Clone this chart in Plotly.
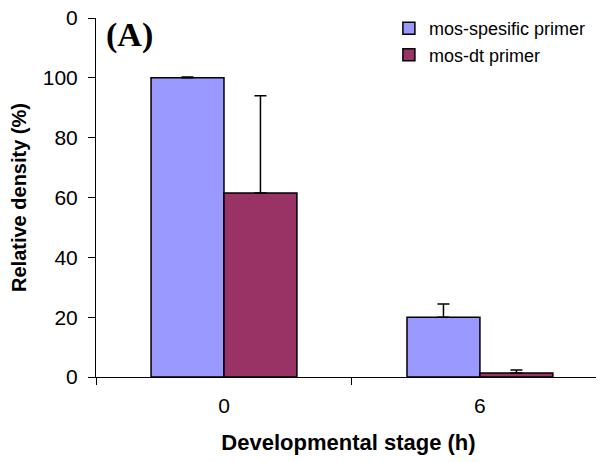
import plotly.graph_objects as go

categories = ["0", "6"]
specific_vals = [100, 20]
specific_err = [0.3, 4.4]
dt_vals = [61.5, 1.3]
dt_err = [32.5, 1.0]
y_tickvals = [0, 20, 40, 60, 80, 100, 120]
y_ticktext = ["0", "20", "40", "60", "80", "100", "0"]

fig = go.Figure()
fig.add_trace(go.Bar(
    x=categories, y=specific_vals, name="mos-spesific primer",
    marker=dict(color="#9999FF", line=dict(color="black", width=1.5)),
    error_y=dict(type="data", array=specific_err, arrayminus=[0, 0], symmetric=False,
                 color="black", thickness=1.5, width=6),
))
fig.add_trace(go.Bar(
    x=categories, y=dt_vals, name="mos-dt primer",
    marker=dict(color="#993366", line=dict(color="black", width=1.5)),
    error_y=dict(type="data", array=dt_err, arrayminus=[0, 0], symmetric=False,
                 color="black", thickness=1.5, width=6),
))

fig.update_layout(
    width=596, height=454,
    margin=dict(l=88, r=3, t=10, b=85, autoexpand=False),
    plot_bgcolor="white", paper_bgcolor="white",
    barmode="group", bargap=0.43, bargroupgap=0,
    font=dict(family="Liberation Sans, Arial, sans-serif", color="black", size=21),
    showlegend=True,
    legend=dict(x=0.58, y=1.022, xanchor="left", yanchor="top",
                font=dict(size=18), bgcolor="rgba(0,0,0,0)", tracegroupgap=2),
    xaxis=dict(
        type="category", tickson="boundaries", ticks="outside", ticklen=7,
        range=[-0.5, 1.473],
        tickcolor="black", showline=True, linecolor="black", linewidth=1,
        showgrid=False, tickfont=dict(size=21), automargin=False,
        ticklabelstandoff=10,
        title=dict(text="<b>Developmental stage (h)</b>", font=dict(size=22), standoff=18),
    ),
    yaxis=dict(
        range=[0, 120], tickvals=y_tickvals, ticktext=y_ticktext,
        ticks="outside", ticklen=7, tickcolor="black", showline=True,
        linecolor="black", linewidth=1, showgrid=False, zeroline=False,
        tickfont=dict(size=21), automargin=False, ticklabeloverflow="allow",
        ticklabelstandoff=6,
        title=dict(text="<b>Relative density (%)</b>", font=dict(size=20), standoff=10),
    ),
    annotations=[dict(
        text="<b>(A)</b>", xref="paper", yref="paper", x=8 / 505, y=1.012,
        xanchor="left", yanchor="top", showarrow=False,
        font=dict(family="Liberation Serif, Times New Roman, serif", size=34),
    )],
)

fig.write_html("out.html")
